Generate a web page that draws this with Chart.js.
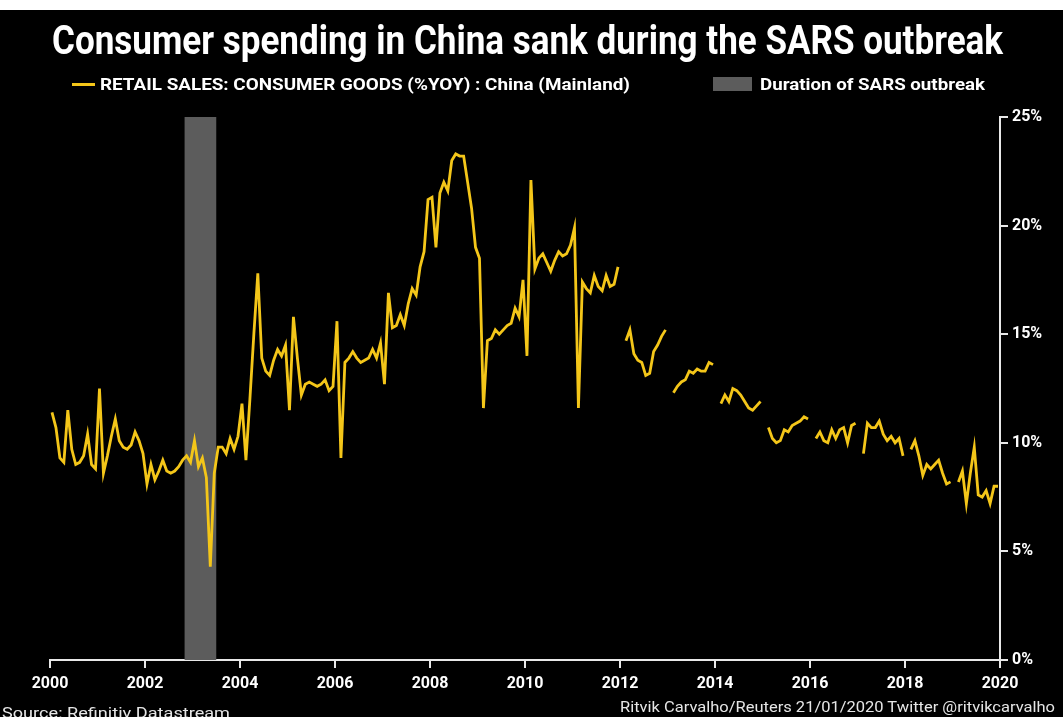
<!DOCTYPE html>
<html>
<head>
<meta charset="utf-8">
<script src="https://cdn.jsdelivr.net/npm/chart.js@4.4.1/dist/chart.umd.min.js"></script>
<style>
  html, body { margin:0; padding:0; background:#ffffff; width:1063px; height:717px; overflow:hidden; }
  #bg { position:absolute; left:0; top:10px; width:1063px; height:707px; background:#000; }
  #c { position:absolute; left:0; top:0; }
  .t { position:absolute; white-space:nowrap; font-family:Roboto, "Open Sans", sans-serif; color:#fff; line-height:1; transform-origin:0 0; }
</style>
</head>
<body>
<div id="bg"></div>
<canvas id="c" width="1063" height="717"></canvas>
<div class="t" id="title" data-w="951" data-x="52" data-b="55" style="font-size:40px;font-weight:700;">Consumer spending in China sank during the SARS outbreak</div>
<div id="lgLine" style="position:absolute;left:72px;top:83px;width:23px;height:3px;background:#f4c619;"></div>
<div class="t" id="lg1" data-w="530" data-x="100" data-b="90" style="font-size:17px;font-weight:700;">RETAIL SALES: CONSUMER GOODS (%YOY) : China (Mainland)</div>
<div id="lgBox" style="position:absolute;left:713px;top:77px;width:39px;height:14px;background:#5c5c5c;"></div>
<div class="t" id="lg2" data-w="225" data-x="760" data-b="90" style="font-size:17px;font-weight:700;">Duration of SARS outbreak</div>
<div class="t" id="src" data-w="228" data-x="2" data-b="718" style="font-size:14px;color:#e6e6e6;">Source: Refinitiv Datastream</div>
<div class="t" id="cred" data-w="435" data-x="620" data-b="712" style="font-size:14px;color:#e6e6e6;">Ritvik Carvalho/Reuters 21/01/2020 Twitter @ritvikcarvalho</div>
<script>
// ---- DATA (monthly %YoY, Jan..Dec) ----
const years = [2000,2001,2002,2003,2004,2005,2006,2007,2008,2009,2010,2011,2012,2013,2014,2015,2016,2017,2018,2019];
const v2000 = [11.4,10.7,9.3,9.1,11.5,9.7,9.0,9.1,9.4,10.4,9.0,8.8];
const v2001 = [12.5,8.6,9.4,10.3,11.1,10.1,9.8,9.7,9.9,10.5,10.1,9.5];
const v2002 = [8.1,9.0,8.3,8.7,9.2,8.7,8.6,8.7,8.9,9.2,9.4,9.1];
const v2003 = [10.1,8.9,9.3,8.4,4.3,8.6,9.8,9.8,9.5,10.2,9.7,10.3];
const v2004 = [11.8,9.2,12.0,15.0,17.8,13.9,13.3,13.1,13.8,14.3,14.0,14.5];
const v2005 = [11.5,15.8,13.9,12.2,12.7,12.8,12.7,12.6,12.7,12.9,12.4,12.6];
const v2006 = [15.6,9.3,13.7,13.9,14.2,13.9,13.7,13.8,13.9,14.3,13.9,14.6];
const v2007 = [12.7,16.9,15.3,15.4,15.9,15.4,16.4,17.1,16.8,18.1,18.8,21.2];
const v2008 = [21.3,19.0,21.5,22.0,21.6,23.0,23.3,23.2,23.2,22.0,20.8,19.0];
const v2009 = [18.5,11.6,14.7,14.8,15.2,15.0,15.2,15.4,15.5,16.2,15.8,17.5];
const v2010 = [14.0,22.1,18.0,18.5,18.7,18.3,17.9,18.4,18.8,18.6,18.7,19.1];
const v2011 = [19.9,11.6,17.4,17.1,16.9,17.7,17.2,17.0,17.7,17.2,17.3,18.1];
const v2012 = [null,14.7,15.2,14.1,13.8,13.7,13.1,13.2,14.2,14.5,14.9,15.2];
const v2013 = [null,12.3,12.6,12.8,12.9,13.3,13.2,13.4,13.3,13.3,13.7,13.6];
const v2014 = [null,11.8,12.2,11.9,12.5,12.4,12.2,11.9,11.6,11.5,11.7,11.9];
const v2015 = [null,10.7,10.2,10.0,10.1,10.6,10.5,10.8,10.9,11.0,11.2,11.1];
const v2016 = [null,10.2,10.5,10.1,10.0,10.6,10.2,10.6,10.7,10.0,10.8,10.9];
const v2017 = [null,9.5,10.9,10.7,10.7,11.0,10.4,10.1,10.3,10.0,10.2,9.4];
const v2018 = [null,9.7,10.1,9.4,8.5,9.0,8.8,9.0,9.2,8.6,8.1,8.2];
const v2019 = [null,8.2,8.7,7.2,8.6,9.8,7.6,7.5,7.8,7.2,8.0,8.0];
const yearValues = [v2000,v2001,v2002,v2003,v2004,v2005,v2006,v2007,v2008,v2009,v2010,v2011,v2012,v2013,v2014,v2015,v2016,v2017,v2018,v2019];
const xTickLabels = ['2000','2002','2004','2006','2008','2010','2012','2014','2016','2018','2020'];
const yTickLabels = ['0%','5%','10%','15%','20%','25%'];
const sarsStart = 2002 + 10/12;  // Nov 2002
const sarsEnd = 2003 + 6/12;     // Jul 2003
const seriesName = 'RETAIL SALES: CONSUMER GOODS (%YOY) : China (Mainland)';

// build points (plotted mid-month)
const points = [];
years.forEach((y, yi) => {
  yearValues[yi].forEach((v, m) => {
    points.push({ x: y + (m + 0.5) / 12, y: v });
  });
});

const sarsPlugin = {
  id: 'sars',
  beforeDatasetsDraw(chart) {
    const { ctx, chartArea, scales } = chart;
    const x0 = scales.x.getPixelForValue(sarsStart);
    const x1 = scales.x.getPixelForValue(sarsEnd);
    ctx.save();
    ctx.fillStyle = '#5c5c5c';
    ctx.fillRect(x0, chartArea.top, x1 - x0, chartArea.bottom - chartArea.top);
    ctx.restore();
  }
};

const tickFont = { family: 'Roboto, sans-serif', size: 16, weight: 'bold' };
new Chart(document.getElementById('c'), {
  type: 'line',
  data: {
    datasets: [{
      label: seriesName,
      data: points,
      borderColor: '#f4c619',
      borderWidth: 2.8,
      pointRadius: 0,
      tension: 0,
      spanGaps: false,
      fill: false
    }]
  },
  options: {
    responsive: false,
    animation: false,
    events: [],
    layout: { padding: { top: 117, left: 50, right: 0, bottom: 0 } },
    plugins: { legend: { display: false }, tooltip: { enabled: false }, title: { display: false } },
    scales: {
      x: {
        type: 'linear', min: 2000, max: 2020,
        afterFit(s) { s.height = 57; },
        border: { display: true, color: '#e8e8e8', width: 2 },
        grid: { drawOnChartArea: false, drawTicks: true, tickLength: 8, color: '#e8e8e8', lineWidth: 2 },
        ticks: {
          stepSize: 2, color: '#ffffff', font: tickFont, padding: 6, maxRotation: 0, autoSkip: false,
          callback: (v) => { const i = Math.round((v - 2000) / 2); return xTickLabels[i]; }
        }
      },
      y: {
        type: 'linear', position: 'right', min: 0, max: 25,
        afterFit(s) { s.width = 63; },
        border: { display: true, color: '#e8e8e8', width: 2 },
        grid: { drawOnChartArea: false, drawTicks: true, tickLength: 8, color: '#e8e8e8', lineWidth: 2 },
        ticks: {
          stepSize: 5, color: '#ffffff', font: tickFont, padding: 4,
          callback: (v) => yTickLabels[Math.round(v / 5)]
        }
      }
    }
  },
  plugins: [sarsPlugin]
});

// fit html texts to target widths
function fitTexts() {
  document.querySelectorAll('.t').forEach(el => {
    el.style.transform = 'none';
    const fs = parseFloat(el.style.fontSize);
    const w = el.getBoundingClientRect().width;
    const target = parseFloat(el.dataset.w);
    el.style.left = el.dataset.x + 'px';
    el.style.top = (parseFloat(el.dataset.b) - 0.84 * fs) + 'px';
    el.style.transform = 'scaleX(' + (target / w) + ')';
  });
}
fitTexts();
if (document.fonts && document.fonts.ready) document.fonts.ready.then(fitTexts);
</script>
</body>
</html>
